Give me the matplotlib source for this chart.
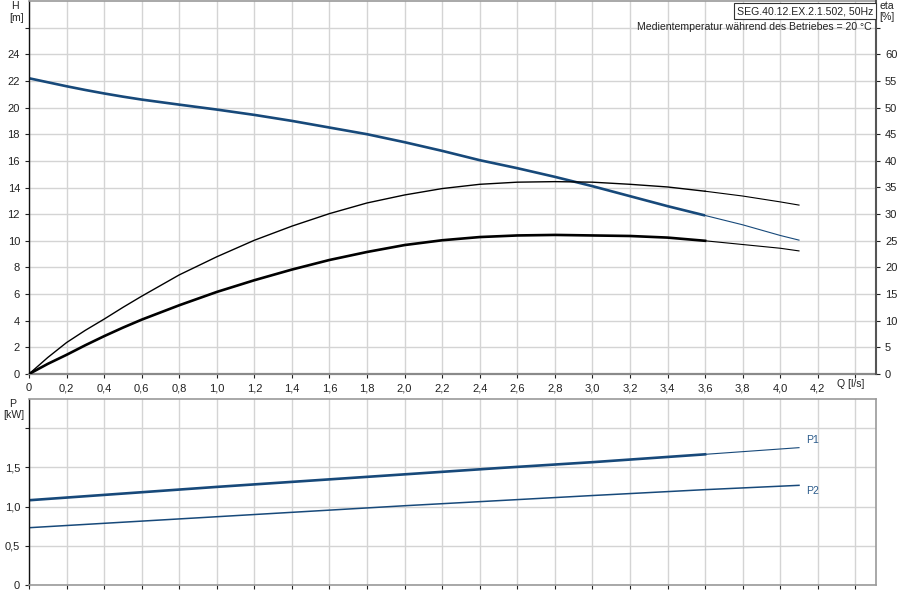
import matplotlib
matplotlib.use("Agg")
import matplotlib.pyplot as plt
import numpy as np

# ---- data ----
Q = [0, 0.1, 0.2, 0.3, 0.4, 0.5, 0.6, 0.8, 1.0, 1.2, 1.4, 1.6, 1.8, 2.0, 2.2, 2.4,
     2.6, 2.8, 3.0, 3.2, 3.4, 3.6, 3.8, 4.0, 4.1]
H = [22.2, 21.9, 21.6, 21.32, 21.06, 20.82, 20.6, 20.22, 19.85, 19.45, 19.0, 18.5,
     18.0, 17.4, 16.75, 16.05, 15.45, 14.8, 14.1, 13.35, 12.6, 11.9, 11.2, 10.4, 10.05]
ETA_P = [0, 3.1, 5.9, 8.2, 10.3, 12.5, 14.6, 18.6, 22.0, 25.1, 27.75, 30.1, 32.1,
         33.6, 34.8, 35.6, 36.0, 36.1, 36.0, 35.6, 35.1, 34.3, 33.4, 32.3, 31.7]
ETA_T = [0, 1.9, 3.6, 5.4, 7.1, 8.7, 10.2, 12.9, 15.4, 17.6, 19.6, 21.4, 22.9,
         24.2, 25.1, 25.7, 26.0, 26.1, 26.0, 25.9, 25.6, 25.0, 24.3, 23.6, 23.1]
Q_P = [0, 0.5, 1.0, 1.5, 2.0, 2.5, 3.0, 3.6, 4.1]
P1 = [1.08, 1.165, 1.25, 1.33, 1.41, 1.49, 1.565, 1.665, 1.75]
P2 = [0.73, 0.80, 0.87, 0.94, 1.01, 1.075, 1.14, 1.215, 1.27]
Q_OP_END = 3.6

q_ticks = [round(0.2 * i, 1) for i in range(23)]
q_labels = [("0" if v == 0 else f"{v:.1f}".replace(".", ",")) for v in q_ticks]
q_labels[-1] = ""
h_ticks = list(range(0, 27, 2))
h_labels = [str(v) for v in h_ticks[:-1]] + [""]
eta_ticks = list(range(0, 66, 5))
eta_labels = [str(v) for v in eta_ticks[:-1]] + [""]
p_ticks = [0, 0.5, 1.0, 1.5, 2.0]
p_labels = ["0", "0,5", "1,0", "1,5", ""]

plt.rcParams['font.family'] = ['Liberation Sans', 'DejaVu Sans']

BLUE = "#17497a"
GRID = "#d4d4d4"
W, Hpx = 900, 600

fig = plt.figure(figsize=(9, 6), dpi=100)

def fx(x):
    return x / W

def fy(y):
    return 1 - y / Hpx

ax1 = fig.add_axes([fx(29), fy(374), (876 - 29) / W, (374 - 1) / Hpx])
ax2 = fig.add_axes([fx(29), fy(585), (876 - 29) / W, (585 - 399) / Hpx])

def split(xs, ys, xc):
    a_x = [x for x in xs if x <= xc]
    a_y = ys[:len(a_x)]
    b_x = xs[len(a_x) - 1:]
    b_y = ys[len(a_x) - 1:]
    return a_x, a_y, b_x, b_y

TFS = 8
for ax in (ax1, ax2):
    ax.set_xlim(0, 4.51)
    ax.set_xticks(q_ticks)
    ax.grid(True, color=GRID, lw=1.0)
    ax.set_axisbelow(True)
    ax.tick_params(axis='both', labelsize=TFS, length=3, width=0.8, colors='#222222')
    ax.spines['left'].set_color('#111111')
    ax.spines['left'].set_linewidth(1.0)
    for s in ('top', 'right', 'bottom'):
        ax.spines[s].set_color('#9a9a9a')
        ax.spines[s].set_linewidth(1.2)

ax1.set_ylim(0, 28)
ax1.set_yticks(h_ticks)
ax1.set_yticklabels(h_labels)
ax1.set_xticklabels(q_labels)
ax1.spines['bottom'].set_color('#8a8a8a')
ax1.spines['bottom'].set_linewidth(1.6)

ax1r = ax1.twinx()
ax1r.set_ylim(0, 70)
ax1r.set_yticks(eta_ticks)
ax1r.set_yticklabels(eta_labels)
ax1r.tick_params(axis='y', labelsize=TFS, length=3, width=0.8, colors='#222222')
ax1r.spines['right'].set_color('#555555')
ax1r.spines['right'].set_linewidth(1.5)
for s in ('top', 'left', 'bottom'):
    ax1r.spines[s].set_visible(False)

# H curve
a_x, a_y, b_x, b_y = split(Q, H, Q_OP_END)
ax1.plot(a_x, a_y, color=BLUE, lw=1.9, solid_capstyle='butt')
ax1.plot(b_x, b_y, color=BLUE, lw=0.8)
# eta curves
a_x, a_y, b_x, b_y = split(Q, ETA_P, Q_OP_END)
ax1r.plot(a_x, a_y, color='black', lw=1.0)
ax1r.plot(b_x, b_y, color='black', lw=0.8)
a_x, a_y, b_x, b_y = split(Q, ETA_T, Q_OP_END)
ax1r.plot(a_x, a_y, color='black', lw=1.9)
ax1r.plot(b_x, b_y, color='black', lw=0.8)

# power
ax2.set_ylim(0, 2.37)
ax2.set_yticks(p_ticks)
ax2.set_yticklabels(p_labels)
ax2.set_xticklabels([])
a_x, a_y, b_x, b_y = split(Q_P, P1, Q_OP_END)
ax2.plot(a_x, a_y, color=BLUE, lw=1.9)
ax2.plot(b_x, b_y, color=BLUE, lw=0.8)
ax2.plot(Q_P, P2, color=BLUE, lw=1.1)

# texts
tc = '#222222'
fs = 7.6
fig.text(fx(15), fy(6), "H", ha='center', va='center', fontsize=fs, color=tc)
fig.text(fx(17), fy(18), "[m]", ha='center', va='center', fontsize=fs, color=tc)
fig.text(fx(887), fy(6), "eta", ha='center', va='center', fontsize=fs, color=tc)
fig.text(fx(887), fy(17), "[%]", ha='center', va='center', fontsize=fs, color=tc)
fig.text(fx(851), fy(384), "Q [l/s]", ha='center', va='center', fontsize=fs, color=tc)
fig.text(fx(13), fy(404), "P", ha='center', va='center', fontsize=fs, color=tc)
fig.text(fx(14), fy(415), "[kW]", ha='center', va='center', fontsize=fs, color=tc)
fig.text(fx(873), fy(11), "SEG.40.12.EX.2.1.502, 50Hz", ha='right', va='center',
         fontsize=fs, color=tc,
         bbox=dict(facecolor='white', edgecolor='#333333', lw=0.8, pad=2.0))
fig.text(fx(872), fy(27), "Medientemperatur während des Betriebes = 20 °C",
         ha='right', va='center', fontsize=fs, color=tc)
fig.text(fx(813), fy(440), "P1", ha='center', va='center', fontsize=fs, color='#2a5a8a')
fig.text(fx(813), fy(491), "P2", ha='center', va='center', fontsize=fs, color='#2a5a8a')

fig.savefig("out.png", dpi=100)
